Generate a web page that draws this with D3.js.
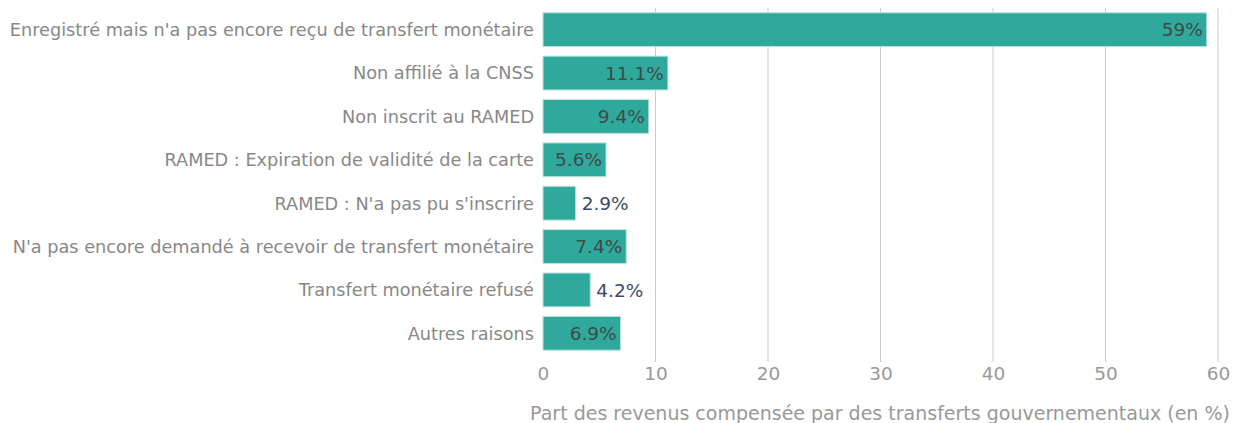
<!DOCTYPE html>
<html><head><meta charset="utf-8">
<script src="https://cdn.jsdelivr.net/npm/d3@7"></script>
<style>body{margin:0;background:#fff;font-family:"DejaVu Sans",Verdana,sans-serif;}</style>
</head><body><svg id="c" width="1236" height="423"></svg>
<script>
const categories = [
  "Enregistré mais n'a pas encore reçu de transfert monétaire",
  "Non affilié à la CNSS",
  "Non inscrit au RAMED",
  "RAMED : Expiration de validité de la carte",
  "RAMED : N'a pas pu s'inscrire",
  "N'a pas encore demandé à recevoir de transfert monétaire",
  "Transfert monétaire refusé",
  "Autres raisons"
];
const values = [59, 11.1, 9.4, 5.6, 2.9, 7.4, 4.2, 6.9];
const valueLabels = ["59%", "11.1%", "9.4%", "5.6%", "2.9%", "7.4%", "4.2%", "6.9%"];
const xTicks = [0, 10, 20, 30, 40, 50, 60];
const xTitle = "Part des revenus compensée par des transferts gouvernementaux (en %)";

const svg = d3.select("#c");
const x = d3.scaleLinear().domain([0, 60]).range([543, 1218]);
const y = d3.scaleBand().domain(categories).range([8, 355]).paddingInner(0.22).paddingOuter(0.11);

// gridlines
svg.append("g").selectAll("line").data(xTicks.filter(d => d > 0)).join("line")
  .attr("x1", d => x(d)).attr("x2", d => x(d)).attr("y1", 8).attr("y2", 362)
  .attr("stroke", "#cccccc").attr("stroke-width", 1);

// axis tick labels
const ax = svg.append("g").attr("transform", "translate(0,362)")
  .call(d3.axisBottom(x).tickValues(xTicks).tickSize(0).tickPadding(5));
ax.select(".domain").remove();
ax.selectAll("text").attr("font-size", 18.5).attr("fill", "#999").attr("font-family", "DejaVu Sans, sans-serif");

// bars
svg.append("g").selectAll("rect").data(values).join("rect")
  .attr("x", x(0)).attr("y", (d, i) => y(categories[i]))
  .attr("width", d => x(d) - x(0)).attr("height", y.bandwidth())
  .attr("fill", "#2fa99c").attr("stroke", "#bfe3df").attr("stroke-width", 1);

// value labels
svg.append("g").selectAll("text").data(values).join("text")
  .attr("y", (d, i) => y(categories[i]) + y.bandwidth() / 2)
  .attr("dy", "0.36em")
  .attr("font-size", 18.5)
  .each(function (d, i) {
    const inside = d >= 5;
    d3.select(this)
      .attr("x", inside ? x(d) - 4 : x(d) + 6)
      .attr("text-anchor", inside ? "end" : "start")
      .attr("fill", inside ? "#3f4a4a" : "#3d4a6b")
      .text(valueLabels[i]);
  });

// category labels
svg.append("g").selectAll("text").data(categories).join("text")
  .attr("x", 534).attr("y", d => y(d) + y.bandwidth() / 2).attr("dy", "0.36em")
  .attr("text-anchor", "end").attr("font-size", 17.7).attr("fill", "#888")
  .text(d => d);

// axis title
svg.append("text").attr("x", 880).attr("y", 420).attr("text-anchor", "middle")
  .attr("font-size", 19).attr("fill", "#999").text(xTitle);
</script></body></html>
